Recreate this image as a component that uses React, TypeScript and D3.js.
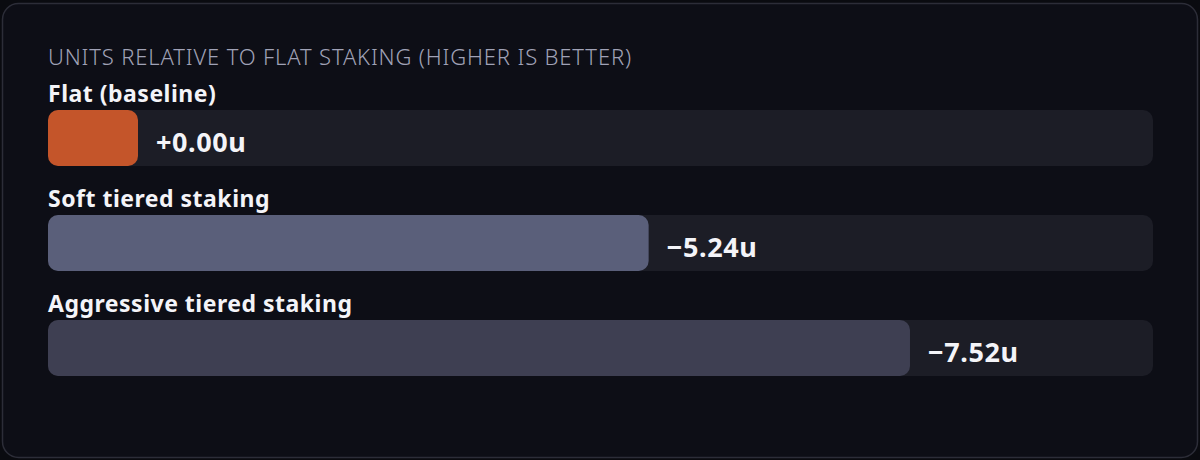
import { useEffect, useRef } from 'react';
import * as d3 from 'd3';

const labels = ['Flat (baseline)', 'Soft tiered staking', 'Aggressive tiered staking'];
const values = [0, -5.24, -7.52];
const colors = ['#c4552a', '#5a5f7a', '#3e3f52'];
const title = 'Units relative to flat staking (higher is better)';

const W = 1200;
const H = 460;
const FONT = '"Noto Sans", "Open Sans", sans-serif';

export default function App() {
  const svgRef = useRef<SVGSVGElement>(null);

  useEffect(() => {
    const svg = d3.select(svgRef.current);
    if (!svg.node()) return;
    svg.selectAll('*').remove();

    const left = 48;
    const trackW = 1105;
    const rowTop = 110;
    const rowStep = 105;
    const barH = 56;

    // bars fill ~78% of the track at the largest magnitude; 0 gets a small stub
    const x = d3.scaleLinear().domain([0, 9.64]).range([0, trackW]);
    const minW = 90;

    svg
      .append('rect')
      .attr('x', 2.5)
      .attr('y', 3.5)
      .attr('width', W - 5)
      .attr('height', H - 6)
      .attr('rx', 16)
      .attr('fill', '#0d0e16')
      .attr('stroke', '#2c2d38')
      .attr('stroke-width', 1.5);

    svg
      .append('text')
      .attr('x', left)
      .attr('y', 65)
      .attr('font-family', FONT)
      .attr('font-size', 22)
      .attr('font-weight', 300)
      .attr('letter-spacing', 0.85)
      .attr('fill', '#a0a2b6')
      .text(title.toUpperCase());

    const rows = svg
      .selectAll('g.row')
      .data(values)
      .join('g')
      .attr('class', 'row')
      .attr('transform', (_, i) => `translate(${left},${rowTop + i * rowStep})`);

    rows
      .append('text')
      .attr('x', 0)
      .attr('y', -8)
      .attr('font-family', FONT)
      .attr('font-size', 23)
      .attr('font-weight', 700)
      .attr('letter-spacing', 0.5)
      .attr('fill', '#f4f4f8')
      .text((_, i) => labels[i]);

    rows
      .append('rect')
      .attr('width', trackW)
      .attr('height', barH)
      .attr('rx', 10)
      .attr('fill', '#1c1d26');

    const bw = (v: number) => Math.max(minW, x(Math.abs(v)));

    rows
      .append('rect')
      .attr('width', (d) => bw(d))
      .attr('height', barH)
      .attr('rx', 10)
      .attr('fill', (_, i) => colors[i]);

    rows
      .append('text')
      .attr('x', (d) => bw(d) + 18)
      .attr('y', 42)
      .attr('font-family', FONT)
      .attr('font-size', 27)
      .attr('font-weight', 700)
      .attr('letter-spacing', 0.6)
      .attr('fill', '#f4f4f8')
      .text((d) => `${d < 0 ? '\u2212' : '+'}${Math.abs(d).toFixed(2)}u`);
  }, []);

  return (
    <svg
      ref={svgRef}
      width={W}
      height={H}
      viewBox={`0 0 ${W} ${H}`}
      style={{ display: 'block', position: 'absolute', left: 0, top: 0, background: '#0a0b10' }}
    />
  );
}
